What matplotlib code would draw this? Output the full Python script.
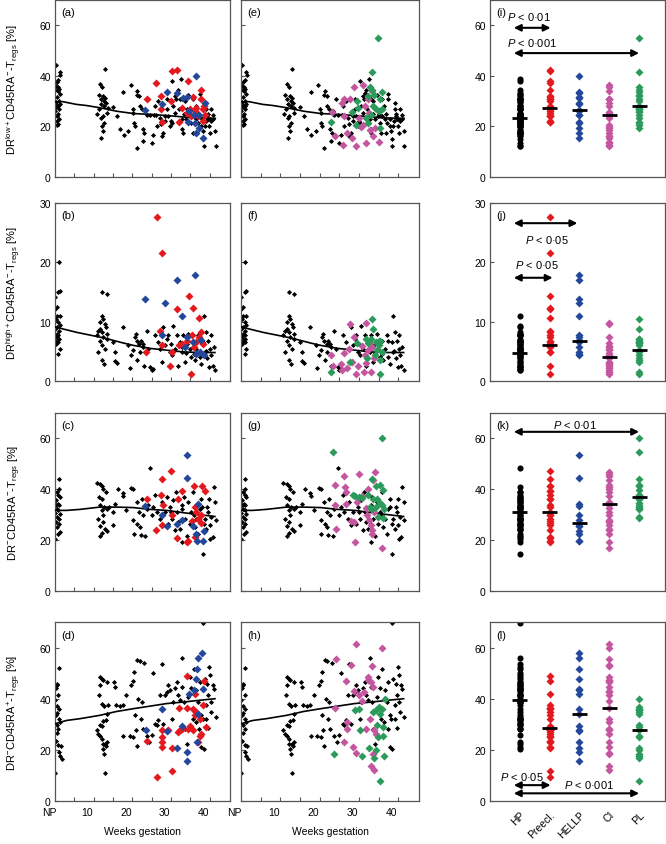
import matplotlib
matplotlib.use('Agg')
import matplotlib.pyplot as plt
import numpy as np

plt.rcParams['font.family'] = ['Liberation Sans', 'DejaVu Sans']
plt.rcParams['mathtext.fontset'] = 'custom'
plt.rcParams['mathtext.rm'] = 'Liberation Sans'
plt.rcParams['mathtext.it'] = 'Liberation Sans:italic'

# group colours
C_HP = 'black'
C_PRE = '#e3191f'
C_HELLP = '#22479b'
C_CI = '#c4559f'
C_PL = '#2b9a5b'

group_names = ['HP', 'Preecl.', 'HELLP', 'CI', 'PL']
week_labels = ['NP', '10', '20', '30', '40']
week_label_pos = [-1.6, 8.4, 18.4, 28.4, 38.4]
HP_MIN_WEEK = 24  # healthy pregnancies shown in the right-hand column

# ---------------- row 1: DR low+ ----------------
r1_black = [
    (0.3, 44.2), (1.2, 41.5), (1.4, 40.5), (0.9, 38.5), (0.5, 37.5), (0.2, 36), (0.8, 35.5), (1.1, 35),
    (0.4, 34.5), (0.7, 34), (1.3, 33), (0.6, 31.5), (1.0, 30), (0.3, 29.5), (1.2, 29), (0.5, 28.5),
    (0.9, 28), (0.2, 27.5), (1.1, 27), (0.0, 26), (0.7, 25), (0.4, 24), (1.0, 23), (0.6, 22), (0.8, 21), (0.5, 20.5),
    (12.9, 42.8), (11.6, 36.6), (12.2, 35.7), (11.3, 32.6), (12.5, 32), (13.0, 31.3), (11.8, 30.7), (12.6, 30),
    (13.3, 29.3), (12.0, 28.7), (12.8, 28), (11.5, 26.7), (13.4, 25.4), (12.3, 24), (11.9, 23.4), (12.7, 21.4),
    (12.1, 20.1), (12.5, 18.2), (12.0, 15.5), (13.6, 27.4), (11.0, 25),
    (14.9, 27.8), (16.1, 24.1), (16.8, 18.8), (17.7, 33.6), (17.8, 16.8), (19.0, 18.2), (19.6, 36.4), (20.1, 26.7),
    (20.3, 25.4), (20.4, 21.4), (20.7, 20.1), (21.1, 11.6), (21.1, 32.6), (21.3, 33.9), (21.8, 32), (22.0, 28),
    (22.4, 26.7), (22.7, 18.8), (22.8, 14.2), (23.1, 17.5), (23.4, 26), (23.7, 24.7), (24.1, 30.7), (24.6, 24.7),
    (25.0, 13.6), (25.4, 16.8), (25.6, 24.7), (25.9, 28), (26.1, 24.7), (26.3, 20.1),
    (26.7, 30), (27.2, 23.4), (27.6, 16.2), (28.0, 17.5), (28.4, 24.1), (28.9, 30.7), (29.3, 24.1), (29.7, 20.1),
    (30.2, 37.9), (30.4, 21.4), (30.6, 28), (31.0, 25.4), (31.3, 30.7), (31.5, 33.3), (31.9, 34.6), (32.3, 30.7),
    (32.5, 38.6), (32.8, 22.8), (33.0, 18.8), (33.2, 17.5), (33.6, 30), (34.1, 26.7), (34.5, 32.6), (34.9, 24.1),
    (35.3, 21.4), (35.6, 17.5), (35.8, 30.7), (36.2, 26.7), (36.6, 22.8), (36.8, 17.5), (37.1, 21.4), (37.5, 30.7),
    (37.9, 20.1), (38.2, 18.2), (38.4, 14.9), (38.5, 12.2), (38.8, 20.1), (39.1, 26.7), (39.2, 29.3), (39.4, 24.1),
    (39.7, 22.8), (39.9, 20.1), (40.1, 17.5), (40.5, 26.7), (40.9, 24.7), (41.4, 18.2), (41.6, 12.2),
    (33.5, 25), (34.0, 23), (35.0, 25), (36.0, 24), (37.0, 25), (38.0, 23), (39.0, 22), (40.0, 23),
    (36.5, 28), (32.0, 27), (30.0, 22), (29.0, 27), (27.5, 21), (28.5, 22), (31.0, 32), (33.0, 31),
    (37.5, 33), (39.5, 25), (40.5, 22), (41.0, 23),
]
r1_trend = [(0, 29.7), (2, 29.8), (5.6, 28.7), (8, 28.3), (11.6, 27.4), (16, 26), (20.3, 25.1),
            (25.4, 24.7), (30.6, 24.1), (35.8, 23.4), (41.5, 23.2)]
r1_pre = [(23.7, 31), (26.1, 37.2), (27.5, 32), (27.5, 26.7), (27.6, 21.7), (30, 30), (30.2, 42.1), (31.7, 42.5),
          (32.1, 21.7), (32.8, 27.4), (34.3, 37.9), (34.9, 26.7), (35.6, 31.6), (36.2, 26), (36.6, 27.4),
          (37.1, 24.1), (37.9, 34.6), (37.9, 30.7), (38.4, 26.7), (38.4, 22.1), (38.5, 28), (38.8, 24.7),
          (35.1, 24.1), (34.2, 25.4)]
r1_hellp = [(23.4, 26.3), (27.8, 28.9), (28.9, 33.7), (31.6, 33.2), (33.2, 31.3), (34.1, 31.6), (34.3, 21.7),
            (36.6, 39.9), (34.7, 26), (36, 24.7), (36.2, 21.4), (36.6, 17.5), (37.2, 19.5), (38.2, 15.5),
            (38.9, 29.1), (37.3, 24.7)]
r1_ci = [(23.2, 25.8), (23.8, 16.2), (25.7, 29.3), (26.3, 30.7), (27.7, 30.9), (26.1, 24.1), (25.9, 12.6),
         (27.1, 17.5), (28.2, 15.5), (28.8, 35.7), (29.2, 12.2), (30.1, 23.4), (31.1, 36.2), (31.1, 20.4),
         (31.6, 28), (31.8, 13.6), (32.2, 30.7), (32.8, 18.4), (33.4, 33.9), (34.1, 19.5), (35.1, 13.8),
         (30.5, 19.9), (33.6, 16.2), (32.6, 25.4)]
r1_pl = [(34.9, 55), (33.4, 41.4), (32.8, 35.7), (33.3, 34.6), (32.2, 32.2), (33.9, 32.6), (35.8, 33.6),
         (35.4, 30.9), (29.4, 30), (29.9, 27.4), (28.2, 25.8), (22.9, 21.7), (29.2, 20.4), (31.8, 23.4),
         (33.6, 28), (34.3, 26.7), (35, 26), (35.8, 26.7), (35.3, 19.5), (33, 24.7), (32.4, 21.4)]
r1_medians = [23.4, 27.1, 26.6, 24.5, 28.0]

# ---------------- row 2: DR high+ ----------------
r2_black = [
    (0.0, 14.1), (1.1, 20), (1.3, 15.2), (0.9, 15), (0.4, 12.4), (0.6, 11), (0.3, 10.5), (0.9, 9.9),
    (1.3, 9.4), (0.4, 9.1), (0.0, 8.8), (1.1, 8.5), (0.6, 8), (0.9, 7.7), (0.3, 7.4), (1.1, 7.1),
    (0.4, 6.8), (0.9, 6.6), (0.3, 6.3), (1.3, 5.4), (0.9, 4.6), (0.0, 12.2), (1.3, 10.9),
    (12.1, 15), (13.5, 14.7), (12.1, 11), (12.5, 10.5), (11.6, 9.9), (12.9, 9.6), (11.2, 8.5), (12.1, 8.2),
    (13.2, 9.1), (10.8, 7.7), (12.5, 7.4), (11.6, 6.8), (13.4, 7.1), (12.1, 6), (12.9, 5.4), (11.2, 4.9),
    (12.1, 3.5), (12.7, 2.9), (13.5, 8), (11.6, 8.8),
    (15.1, 6.6), (15.5, 4.9), (15.5, 3.3), (16.1, 3.1), (17.5, 9.1), (19, 6), (19.4, 2.2), (19.8, 4.3),
    (20.3, 5.3), (20.7, 7.4), (20.9, 8), (21.1, 6.8), (21.3, 3.5), (21.8, 6.3), (22, 4.9), (22.2, 6.8),
    (22.7, 6.3), (22.8, 5.7), (23, 2.6), (23.7, 8.5), (24.1, 5.4), (24.6, 2.4), (25, 1.8), (25.4, 2.1), (25.9, 7.7),
    (26.7, 6.6), (27.2, 5.4), (27.6, 3.2), (28, 9.1), (28.4, 6), (28.9, 7.1), (29.3, 7.7), (29.7, 4.9),
    (30.2, 4.3), (30.6, 9.2), (31, 5.4), (31.5, 7.7), (31.9, 2.6), (32.3, 6.6), (32.8, 4.9), (33.2, 7.7),
    (33.6, 3.2), (34.1, 6.3), (34.5, 8), (34.9, 5.4), (35.3, 4), (35.8, 6.8), (36.2, 3.5), (36.6, 5.4),
    (37.1, 7.7), (37.5, 4), (37.9, 2.9), (38.4, 6.6), (38.8, 4.9), (39.2, 8.2), (39.4, 3.8), (39.7, 6.8),
    (39.9, 2.4), (40.1, 5.4), (40.5, 4.3), (40.8, 2.6), (41.1, 5.7), (41.4, 1.8), (40.3, 7.7), (38.6, 11),
    (37.5, 6.8), (36.0, 4.5), (34.0, 4.8), (33.0, 5.8), (30.0, 6.2), (39.0, 5.0),
]
r2_trend = [(0, 9.1), (1.3, 8.9), (5.6, 8.2), (11.6, 7.4), (14.2, 7), (17.7, 6.4), (20.3, 6),
            (24.6, 5.5), (28.9, 5.2), (33.2, 4.9), (37.5, 4.8), (41.4, 4.8)]
r2_pre = [(26.3, 27.7), (27.6, 21.6), (27.2, 8.5), (27.6, 6), (23.5, 4.9), (29.7, 2.6), (30.2, 4.9),
          (31.5, 12.2), (32.2, 6), (32.8, 6.3), (34.7, 14.3), (35.6, 12.3), (35.1, 1.2), (37.3, 10.6),
          (37.9, 8.2), (38.2, 6.3), (35.4, 7.7), (36, 5.7), (36.6, 6.6), (37.3, 7.4), (34.1, 6.8)]
r2_hellp = [(23.4, 13.8), (28.6, 13.2), (31.5, 17.1), (36.2, 17.9), (32.9, 10.9), (27.6, 7.7), (34.1, 7.5),
            (35.6, 6.6), (33.6, 5.7), (37.5, 4.9), (36.6, 4.6), (37.9, 6.9), (38.5, 4.3)]
r2_ci = [(27.7, 9.6), (31.9, 9.8), (28.8, 7.5), (22.9, 4.3), (23.4, 2.6), (25.5, 2.9), (25.7, 1.8),
         (26.1, 4.8), (27.1, 2.2), (27.6, 5.4), (28.2, 3.2), (29.2, 1.2), (29.7, 2.6), (30.8, 5.9),
         (31.2, 1.6), (31.6, 4.4), (31.8, 3.1), (32.6, 6.4), (33, 1.6), (33.4, 5.7), (33.9, 3.9), (32.2, 5.2)]
r2_pl = [(33.4, 10.5), (33.6, 8.7), (29.5, 6.4), (22.8, 1.5), (27.8, 3.2), (31.9, 7), (32.3, 6.4), (33, 7.1),
         (34.3, 6.6), (35, 6.8), (35.5, 6.8), (35.1, 6), (34.5, 5.2), (34, 4.3), (32, 3.9), (35.5, 3.5),
         (35.3, 1.1), (36, 4.9)]
r2_medians = [4.8, 6.1, 6.7, 4.1, 5.2]

# ---------------- row 3: DR- CD45RA- ----------------
r3_black = [
    (0, 20.3), (1.1, 44.2), (0.4, 38.9), (0.9, 37.9), (1.3, 37), (0.3, 35.7), (0.7, 34.3), (1.1, 33.7),
    (0.4, 32.4), (0.9, 31.7), (0, 30.8), (1.3, 30.4), (0.4, 29.1), (1, 28.4), (0.3, 27.1), (1.1, 26.4),
    (0.6, 25.1), (1.3, 23.2), (0.8, 22.5), (0.3, 33.7), (1, 40.3),
    (10.8, 42.6), (11.6, 42.2), (12.1, 41.3), (12.5, 40.3), (13.2, 38.9), (11.5, 37), (12.1, 36.3),
    (11.6, 33.7), (12.7, 33), (13.4, 32.4), (12.1, 31.7), (12.5, 29.7), (11.2, 28.4), (12.3, 27.1),
    (11.6, 25.5), (12.9, 24.5), (12.1, 22.9), (13.4, 23.4), (11.6, 21.8), (14.1, 33),
    (14.9, 25.8), (15.1, 31), (15.5, 34.3), (16.4, 40.3), (17.5, 38.7), (17.7, 37.4), (18.5, 31.7),
    (19.8, 40.7), (20.3, 40.3), (20.3, 27.8), (20.4, 22.5), (21.1, 35), (21.3, 26.4), (21.8, 31), (22, 25.1),
    (22.2, 22.1), (22.4, 36.3), (22.7, 29.7), (23.3, 21.8), (23.7, 32.4), (24.1, 33.7), (24.7, 48.2),
    (25, 29.7), (25.4, 33), (25.9, 37.9), (26.3, 31),
    (27.2, 28.4), (27.6, 35), (28, 25.8), (28.4, 31), (28.9, 37), (29.3, 26.4), (29.7, 33), (30.2, 28.4),
    (30.6, 35.7), (31, 23.8), (31.3, 38.9), (31.5, 31), (31.9, 27.1), (32.3, 24.5), (32.8, 32.4), (33, 19.2),
    (33.4, 37), (33.6, 28.4), (34.1, 21.8), (34.5, 35), (34.9, 26.4), (35.3, 31), (35.8, 38.9), (36.2, 25.1),
    (36.6, 28.4), (37.1, 22.5), (37.5, 32.4), (37.9, 36.3), (38.4, 14.6), (38.5, 26.4), (38.8, 28.4),
    (39.1, 24.5), (39.4, 33), (39.7, 31), (39.9, 36.3), (40.1, 20.5), (40.5, 29.1), (40.8, 21.2),
    (41.1, 40.9), (41.4, 35), (41.6, 27.8), (36.0, 30), (33.0, 34), (30.0, 31), (38.0, 33), (40.0, 26),
]
r3_trend = [(0, 31.7), (3, 31.7), (6.5, 32.1), (11.6, 33), (15.9, 33), (20.3, 32.8), (24.6, 32.1),
            (28.9, 31.7), (33.2, 30.8), (37.5, 30), (41.4, 29.3)]
r3_pre = [(23.9, 36.3), (26.1, 24.1), (27.4, 37.9), (27.7, 44.2), (27.9, 33.7), (27.8, 26.1), (30, 47.2),
          (30.4, 29.7), (31.9, 36.3), (31.7, 20.8), (32.8, 39.2), (34.1, 19.2), (34.5, 19.5), (36, 41.2),
          (35.5, 27.4), (36.2, 33), (36.6, 31), (37.8, 26.8), (37.9, 29.7), (38.1, 41.2), (38.8, 39.2),
          (36.2, 21.2), (36.9, 28.4)]
r3_hellp = [(23.4, 33.4), (27.6, 30), (28.9, 25.5), (31.5, 26.4), (33, 27.8), (34.1, 53.4), (34.1, 44.6),
            (35.8, 25.5), (36.6, 22.5), (36.9, 34.3), (36.8, 19.5), (38.2, 19.5), (38.6, 23.4)]
r3_ci = [(23.8, 41.6), (24, 33.7), (24.2, 24.2), (26.1, 45.3), (26.5, 40.9), (26.7, 38.9), (26.7, 34.3),
         (28, 27.5), (28.7, 27.1), (29.1, 19.2), (29.4, 35), (30.1, 46.2), (30.9, 37.4), (31.8, 32.6),
         (32.4, 40), (32.6, 27.8), (33, 26.1), (33.3, 22.5), (33.6, 43.6), (34.1, 46.8), (33.9, 31.1),
         (35.8, 16.8), (32, 30), (33.4, 23.8)]
r3_pl = [(23.5, 54.7), (36, 60), (28.4, 37.6), (29.1, 37.4), (30.1, 37), (30.8, 36.6), (32.4, 37.6),
         (33.4, 43.9), (34.3, 41.3), (35.5, 41.6), (36.2, 39.6), (34.7, 36.3), (35.3, 34.7), (35.9, 33.9),
         (34.3, 33), (33.4, 32.4), (32.8, 33), (34.9, 29.1), (36.1, 28.7), (36.4, 32.4), (33.6, 36.3)]
r3_medians = [31.2, 31.2, 26.6, 34.2, 36.8]

# ---------------- row 4: DR- CD45RA+ ----------------
r4_black = [
    (0, 10.9), (0, 39.6), (0.4, 45.9), (0.6, 45.3), (1.1, 52.1), (0.9, 41.3), (0.4, 37.1), (1.1, 35.8),
    (0.6, 34.5), (0.3, 33.5), (1, 32.2), (1.3, 30.8), (0.4, 29.8), (0.9, 28.2), (0.6, 26.6), (0.3, 23.6),
    (0.9, 21.9), (1.1, 19.3), (1.3, 17.7), (1.7, 16.4), (1.5, 21.7), (0.3, 44),
    (11.6, 48.6), (12.1, 47.9), (12.5, 47.2), (13.4, 46.6), (11.6, 45.3), (11.5, 41.3), (12.1, 38.1),
    (12.7, 37.1), (10.8, 27.6), (11.2, 26.2), (11.6, 25.6), (12.1, 24.3), (12.3, 22.3), (12.5, 20.3),
    (12.7, 18.4), (12.9, 22.3), (13.2, 21.7), (13.5, 23), (11.6, 29.8), (12.5, 31.1), (12.9, 10.9),
    (13.8, 37.4), (13.2, 31.8), (12.1, 29.5), (13.5, 34.1),
    (15.3, 46.6), (15.5, 44.6), (15.9, 37.4), (16.8, 37.1), (17.5, 37.7), (17.7, 25.6), (18.5, 41.3),
    (19.4, 25.6), (19.8, 45.3), (20.3, 46.9), (20.3, 24.9), (20.5, 50.5), (20.7, 33.5), (20.9, 27.6),
    (21.1, 21.4), (21.3, 55.1), (21.6, 40), (22, 54.7), (22.2, 32.2), (22.4, 38.7), (22.7, 28.2),
    (23.1, 53.8), (23.7, 25.6), (24.4, 23), (25, 25.9), (25.4, 49.9), (25.9, 30.2), (26.3, 29.8),
    (26.7, 31.5), (27.2, 41.3), (27.6, 53.4), (28, 30.2), (28.4, 41.3), (28.9, 42.7), (29.3, 45.3),
    (29.7, 43.3), (30.2, 32.2), (30.6, 38.7), (31, 44), (31.5, 46.6), (31.9, 41.3), (32.3, 39.4), (32.8, 56),
    (33, 44.6), (33.4, 38.7), (33.6, 28.2), (34.1, 22.3), (34.5, 40.7), (34.9, 48.6), (35.3, 44),
    (35.6, 32.2), (35.8, 36.1), (36, 51.8), (36.5, 30.8), (36.6, 43.3), (37.1, 38.7), (37.3, 28.2),
    (37.5, 46.6), (37.8, 33.5), (37.9, 21), (38.4, 69.6), (38.5, 20.3), (38.8, 47.9), (39.1, 37.4),
    (39.2, 32.2), (39.4, 45.9), (39.7, 41.3), (39.9, 52.5), (40.1, 49.2), (40.3, 38.7), (40.5, 34.8),
    (40.8, 45.3), (41.1, 43.7), (41.6, 32.8), (39.7, 28.5), (38.2, 32.2),
]
r4_trend = [(0, 30.2), (3, 31.5), (6.5, 32.2), (11.6, 33.5), (15.9, 35), (20.3, 36.1), (24.6, 37.1),
            (28.9, 38.1), (33.2, 38.7), (37.5, 39.4), (41.4, 40)]
r4_pre = [(23.9, 23.6), (26.3, 9.2), (27.8, 27.6), (27.8, 24.9), (27.8, 23), (27.8, 21), (29.3, 27.6),
          (30.2, 20.6), (30.3, 11.8), (31.9, 26.9), (32.3, 27.6), (32.1, 36.4), (32.8, 28.2), (34.2, 49),
          (34.2, 36.4), (34.3, 28.2), (34.9, 29.5), (35.8, 27.6), (36.2, 42), (36.2, 33.5), (36.6, 34.8),
          (37.1, 23), (37.5, 32.2), (37.9, 26.2), (38.2, 37.4), (38.5, 46.9), (39.1, 28.9), (37.5, 25.6),
          (35.6, 36.1)]
r4_hellp = [(23.5, 27.8), (27.8, 36.1), (28.9, 27.3), (31.7, 20.6), (33, 29.3), (34.2, 19), (34.2, 15.7),
            (34.7, 42), (35.9, 43.3), (36.4, 47.9), (36.7, 51.6), (37.1, 55.8), (38.1, 57.7), (38.4, 43.7),
            (37.1, 34.1), (36.7, 23)]
r4_ci = [(24.2, 55.4), (24, 36.4), (26.7, 46.9), (27, 30.8), (26.9, 28.2), (26.3, 23), (28, 53.1),
         (28.7, 42.9), (28.6, 21), (29.3, 61.3), (29.3, 18.8), (30.1, 41.3), (31.3, 42.7), (32.2, 48.6),
         (32.4, 47.2), (33, 46.6), (33.4, 52.8), (33.6, 44.6), (31.8, 28.2), (32.8, 32.2), (33.9, 27.6),
         (34.3, 26.2), (33.6, 18.4), (33, 13.8), (33.9, 12.2), (35.8, 59.7), (30.9, 39)]
r4_pl = [(23.6, 18.4), (29.1, 35.4), (30.1, 36.1), (30.3, 27.6), (30.9, 17.7), (32.6, 20.6), (33.6, 34.8),
         (33.9, 16.7), (34.3, 35.4), (34.7, 29.8), (34.9, 24.9), (35.1, 36.7), (35.5, 34.1), (35.9, 35.8),
         (36.1, 28.9), (36.2, 25.6), (36.4, 17.7), (36.6, 40), (34.3, 19.9), (35.5, 7.9)]
r4_medians = [39.6, 28.7, 34.1, 36.4, 27.6]

# significance arrows (x1, x2, y) and labels (x, y, text, ha) for the right column
r1_arrows = [(0.8, 2.03, 59), (0.8, 5.0, 49)]
r1_ptext = [(0.57, 63.5, '$P$ < 0·01', 'left'), (0.57, 53.5, '$P$ < 0·001', 'left')]
r2_arrows = [(0.8, 2.93, 26.6), (0.8, 2.1, 17.4)]
r2_ptext = [(1.17, 24.0, '$P$ < 0·05', 'left'), (0.83, 19.7, '$P$ < 0·05', 'left')]
r3_arrows = [(0.8, 5.0, 62.6)]
r3_ptext = [(2.85, 65.6, '$P$ < 0·01', 'center')]
r4_arrows = [(0.8, 2.03, 6.2), (0.8, 5.0, 3.0)]
r4_ptext = [(0.33, 9.8, '$P$ < 0·05', 'left'), (2.47, 6.5, '$P$ < 0·001', 'left')]

ylabels = [
    'DR$^{\\mathrm{low+}}$CD45RA$^{-}$-T$_{\\mathrm{regs}}$ [%]',
    'DR$^{\\mathrm{high+}}$CD45RA$^{-}$-T$_{\\mathrm{regs}}$ [%]',
    'DR$^{-}$CD45RA$^{-}$-T$_{\\mathrm{regs}}$ [%]',
    'DR$^{-}$CD45RA$^{+}$-T$_{\\mathrm{regs}}$ [%]',
]

rows = [
    dict(black=r1_black, trend=r1_trend, pre=r1_pre, hellp=r1_hellp, ci=r1_ci, pl=r1_pl,
         med=r1_medians, arrows=r1_arrows, ptext=r1_ptext, ymax=70, yticks=[0, 20, 40, 60]),
    dict(black=r2_black, trend=r2_trend, pre=r2_pre, hellp=r2_hellp, ci=r2_ci, pl=r2_pl,
         med=r2_medians, arrows=r2_arrows, ptext=r2_ptext, ymax=30, yticks=[0, 10, 20, 30]),
    dict(black=r3_black, trend=r3_trend, pre=r3_pre, hellp=r3_hellp, ci=r3_ci, pl=r3_pl,
         med=r3_medians, arrows=r3_arrows, ptext=r3_ptext, ymax=70, yticks=[0, 20, 40, 60]),
    dict(black=r4_black, trend=r4_trend, pre=r4_pre, hellp=r4_hellp, ci=r4_ci, pl=r4_pl,
         med=r4_medians, arrows=r4_arrows, ptext=r4_ptext, ymax=70, yticks=[0, 20, 40, 60]),
]

# axes boxes in pixels (left, right) and (top, bottom) of a 666x845 figure
W, H = 666, 845
col_px = [(55, 230), (241, 419), (490, 665)]
row_px = [(1, 178), (204, 382), (414, 592), (623, 802)]
letters = ['abcd', 'efgh', 'ijkl']

SPINE = '#555555'
FS = 7.5

fig = plt.figure(figsize=(W / 100, H / 100), dpi=100)


def style_axes(ax):
    for s in ax.spines.values():
        s.set_color(SPINE)
        s.set_linewidth(0.9)
    ax.tick_params(direction='in', length=3, width=0.8, color=SPINE, labelsize=FS, pad=3)


def xy(pts):
    a = np.array(pts, dtype=float)
    return a[:, 0], a[:, 1]


for r, row in enumerate(rows):
    top, bot = row_px[r]
    for c in range(3):
        left, right = col_px[c]
        ax = fig.add_axes([left / W, 1 - bot / H, (right - left) / W, (bot - top) / H])
        style_axes(ax)
        ax.set_ylim(0, row['ymax'])
        ax.set_yticks(row['yticks'])
        ax.text(0.035, 0.93, '(%s)' % letters[c][r], transform=ax.transAxes,
                ha='left', va='center', fontsize=8)

        if c < 2:
            ax.set_xlim(0, 45.3)
            ax.set_xticks(range(5, 45, 5))
            ax.set_xticklabels([])
            bx, by = xy(row['black'])
            ax.plot(bx, by, 'D', color='black', ms=2.6, mec='none', zorder=2)
            tx, ty = xy(row['trend'])
            ax.plot(tx, ty, '-', color='black', lw=1.2, zorder=3)
            groups = [(row['pre'], C_PRE), (row['hellp'], C_HELLP)] if c == 0 else \
                     [(row['ci'], C_CI), (row['pl'], C_PL)]
            for pts, col in groups:
                gx, gy = xy(pts)
                ax.plot(gx, gy, 'D', color=col, ms=4.5, mec='none', zorder=4)
            if c == 0:
                ax.set_ylabel(ylabels[r], fontsize=8)
                ax.yaxis.set_label_coords(-0.18, 0.5)
            else:
                ax.set_yticklabels([])
            if r == 3:
                for pos, lab in zip(week_label_pos, week_labels):
                    ax.text(pos, -0.035, lab, transform=ax.get_xaxis_transform(),
                            ha='center', va='top', fontsize=FS)
                ax.text(0.5, -0.165, 'Weeks gestation', transform=ax.transAxes,
                        ha='center', va='center', fontsize=FS)
        else:
            ax.set_xlim(0, 5.87)
            ax.set_xticks([1, 2, 3, 4, 5])
            ax.tick_params(axis='x', length=0)
            # HP column: healthy pregnancies from the late weeks
            hx, hy = xy(row['black'])
            hp_vals = hy[hx >= HP_MIN_WEEK]
            cols = [(hp_vals, C_HP, 'o', 4.4)]
            for pts, col in [(row['pre'], C_PRE), (row['hellp'], C_HELLP),
                             (row['ci'], C_CI), (row['pl'], C_PL)]:
                cols.append((xy(pts)[1], col, 'D', 4.3))
            for i, (vals, col, mk, ms) in enumerate(cols):
                ax.plot(np.full(len(vals), i + 1.0), vals, mk, color=col, ms=ms, mec='none', zorder=2)
                ax.hlines(row['med'][i], i + 1 - 0.25, i + 1 + 0.25, color='black', lw=2, zorder=3)
            for x1, x2, y in row['arrows']:
                ax.annotate('', xy=(x2, y), xytext=(x1, y),
                            arrowprops=dict(arrowstyle='<|-|>', color='black', lw=1.5,
                                            mutation_scale=10, shrinkA=0, shrinkB=0))
            for x, y, txt, ha in row['ptext']:
                ax.text(x, y, txt, ha=ha, va='center', fontsize=8)
            if r == 3:
                ax.set_xticklabels(group_names, rotation=45, ha='right', rotation_mode='anchor',
                                   fontsize=FS)
                ax.tick_params(axis='x', pad=6)
            else:
                ax.set_xticklabels([])

fig.savefig('out.png', dpi=100)
